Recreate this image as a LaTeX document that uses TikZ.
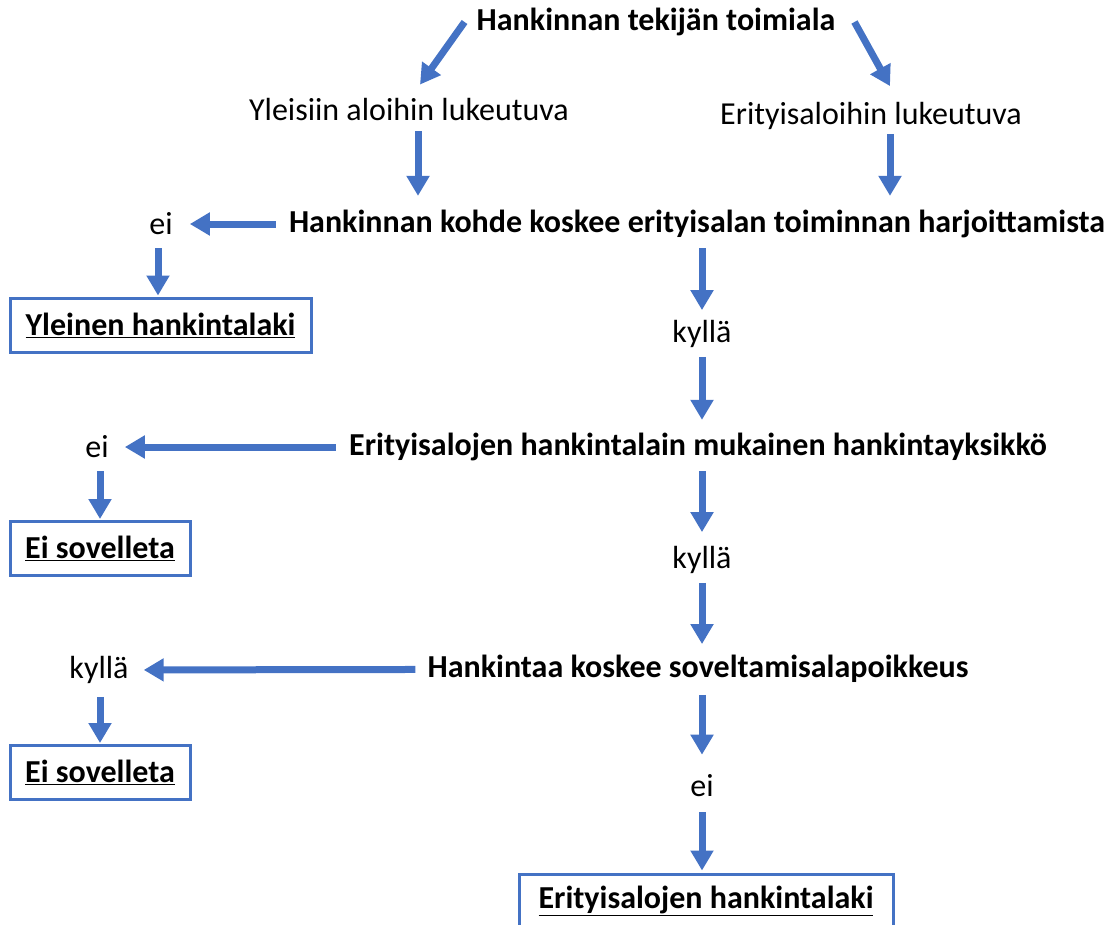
\documentclass[tikz,border=0pt]{standalone}
\usepackage{fontspec}
\setmainfont{Carlito}
\usepackage{tikz}
\usetikzlibrary{positioning,arrows.meta}
\definecolor{offblue}{RGB}{68,114,196}

\begin{document}
\begin{tikzpicture}[
          x=1pt, y=-1pt,
          every node/.style={font=\fontsize{32}{38}\selectfont, inner sep=0pt},
          ask/.style={font=\fontsize{32}{38}\selectfont\bfseries},
          answer/.style={},
          law/.style={draw=offblue, line width=3pt, font=\fontsize{32}{38}\selectfont\bfseries, minimum height=54pt},
          arr/.style={-{Triangle[width=22pt,length=20pt]}, line width=7pt, offblue}
      ]
        \useasboundingbox (0,0) rectangle (1118,924);
        \node[ask] (top) at (656,22) {Hankinnan tekijän toimiala};
        \node[answer] (yl) at (409,110) {Yleisiin aloihin lukeutuva};
        \node[answer] (er) at (871,116) {Erityisaloihin lukeutuva};
        \node[ask] (q1) at (697,224) {Hankinnan kohde koskee erityisalan toiminnan harjoittamista};
        \node[answer] (ei1) at (161,224) {ei};
        \node[law, minimum width=301pt] (yhl) at (160.5,325) {\underline{Yleinen hankintalaki}};
        \node[answer] (ky1) at (702,334) {kyllä};
        \node[ask] (q2) at (698,447) {Erityisalojen hankintalain mukainen hankintayksikkö};
        \node[answer] (ei2) at (97,447) {ei};
        \node[law, minimum width=180pt] (es1) at (100,548.5) {\underline{Ei sovelleta}};
        \node[answer] (ky2) at (702,560) {kyllä};
        \node[ask] (q3) at (698,669) {Hankintaa koskee soveltamisalapoikkeus};
        \node[answer] (ky3) at (99,670) {kyllä};
        \node[law, minimum width=180pt] (es2) at (100,772.5) {\underline{Ei sovelleta}};
        \node[answer] (ei3) at (702,786) {ei};
        \node[law, minimum width=374pt] (ehl) at (706,901) {\underline{Erityisalojen hankintalaki}};
        % top split
        \draw[arr] ([xshift=-12pt]top.west) -- ([xshift=11pt,yshift=14pt]yl.north);
        \draw[arr] ([xshift=19pt]top.east) -- ([xshift=19pt,yshift=16pt]er.north);
        \draw[arr, shorten <=10pt, shorten >=14pt] (yl.south -| 418,0) -- (q1.north -| 418,0);
        \draw[arr, shorten <=4pt, shorten >=14pt] (er.south -| 890,0) -- (q1.north -| 890,0);
        % first question
        \draw[arr, shorten <=13pt, shorten >=17pt] (q1) -- (ei1);
        \draw[arr, shorten <=13pt, shorten >=1pt] (ei1.south -| 158,0) -- (yhl.north -| 158,0);
        \draw[arr, shorten <=10pt, shorten >=10pt] (q1.south -| ky1) -- (ky1);
        \draw[arr, shorten <=9pt, shorten >=13pt] (ky1) -- (q2.north -| ky1);
        % second question
        \draw[arr, shorten <=13pt, shorten >=16pt] (q2) -- (ei2);
        \draw[arr, shorten <=13pt, shorten >=1pt] (ei2.south -| es1) -- (es1);
        \draw[arr, shorten <=10pt, shorten >=14pt] (q2.south -| ky2) -- (ky2);
        \draw[arr, shorten <=9pt, shorten >=11pt] (ky2) -- (q3.north -| ky2);
        % third question
        \draw[arr, shorten <=12pt, shorten >=15pt] (q3) -- (ky3);
        \draw[arr, shorten <=13pt, shorten >=1pt] (ky3.south -| es2) -- (es2);
        \draw[arr, shorten <=12pt, shorten >=20pt] (q3.south -| ei3) -- (ei3);
        \draw[arr, shorten <=15pt, shorten >=2pt] (ei3) -- (ei3 |- ehl.north);
      \end{tikzpicture}
\end{document}
